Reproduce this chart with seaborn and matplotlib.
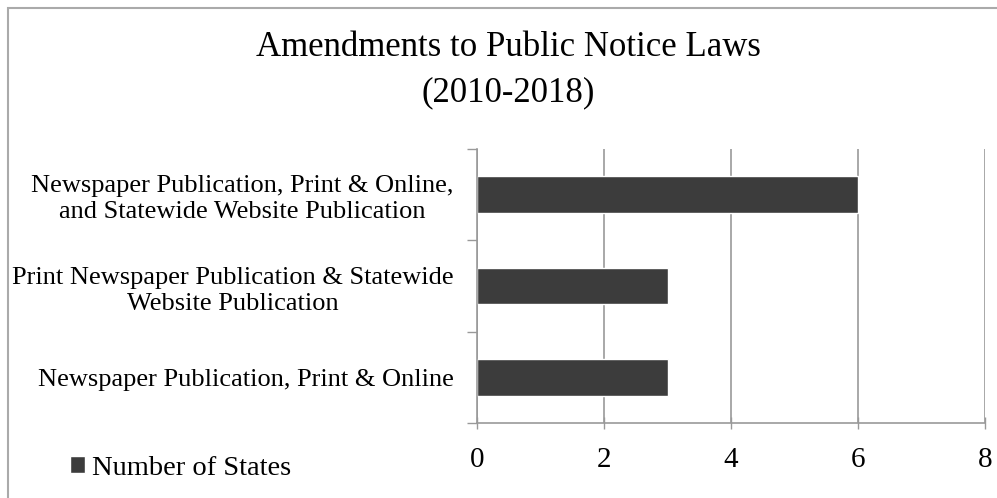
import matplotlib
matplotlib.use("Agg")
import matplotlib.pyplot as plt
import seaborn as sns
import pandas as pd
from matplotlib.patches import Rectangle

categories = [
    "Newspaper Publication, Print & Online,\nand Statewide Website Publication",
    "Print Newspaper Publication & Statewide\nWebsite Publication",
    "Newspaper Publication, Print & Online",
]
values = [6, 3, 3]
series_name = "Number of States"
title = "Amendments to Public Notice Laws\n(2010-2018)"
xticks = [0, 2, 4, 6, 8]

sns.set_theme(style="white")
plt.rcParams["font.family"] = ["Liberation Serif", "DejaVu Serif"]
plt.rcParams["text.color"] = "black"
plt.rcParams["xtick.color"] = "black"
plt.rcParams["ytick.color"] = "black"

df = pd.DataFrame({"category": categories, "value": values, "series": series_name})

fig = plt.figure(figsize=(9.97, 4.98), dpi=100)
ax = fig.add_axes([477 / 997, 1 - 423 / 498, (985 - 477) / 997, (423 - 149) / 498])

sns.barplot(data=df, x="value", y="category", hue="series", orient="h",
            palette=["#3c3c3c"], width=0.4, ax=ax, legend=True)

ax.set_xlim(0, 8)
ax.set_ylim(2.5, -0.5)
ax.set_xticks(xticks)
ax.set_xticklabels([str(t) for t in xticks], fontsize=21, color="black")
ax.set_xlabel("")
ax.set_ylabel("")
ax.set_yticks(range(len(categories)))
ax.set_yticklabels(categories, fontsize=19, color="black")
for lab in ax.get_yticklabels():
    lab.set_multialignment("center")
    lab.set_linespacing(1.25)
ax.tick_params(axis="y", length=0, pad=17)
ax.set_yticks([-0.5, 0.5, 1.5, 2.5], minor=True)
ax.tick_params(axis="y", which="minor", left=True, length=7, width=1, color="#999999", direction="out")
ax.tick_params(axis="x", bottom=True, length=8, width=1, color="#999999", direction="inout", pad=13)
ax.grid(axis="x", color="#999999", linewidth=1.2)
ax.grid(axis="y", visible=False)
ax.set_axisbelow(True)
for s in ["top", "right"]:
    ax.spines[s].set_visible(False)
for s in ["left", "bottom"]:
    ax.spines[s].set_color("#999999")
    ax.spines[s].set_linewidth(1.2)

ax.get_legend().remove()
handles, labels = ax.get_legend_handles_labels()
fig.legend(handles, labels, loc="center left", bbox_to_anchor=(44 / 997, 1 - 468 / 498),
           frameon=False, fontsize=20.5, handlelength=0.55, handleheight=0.55, handletextpad=0.25)

fig.text(508 / 997, 1 - 70 / 498, title, ha="center", va="center", fontsize=25, linespacing=1.5)

fig.patches.append(Rectangle((8 / 997, -0.1), 1.2, 1 - 8 / 498 + 0.1, transform=fig.transFigure,
                             fill=False, edgecolor="#aaaaaa", linewidth=1.5))

fig.savefig("out.png", dpi=100)
